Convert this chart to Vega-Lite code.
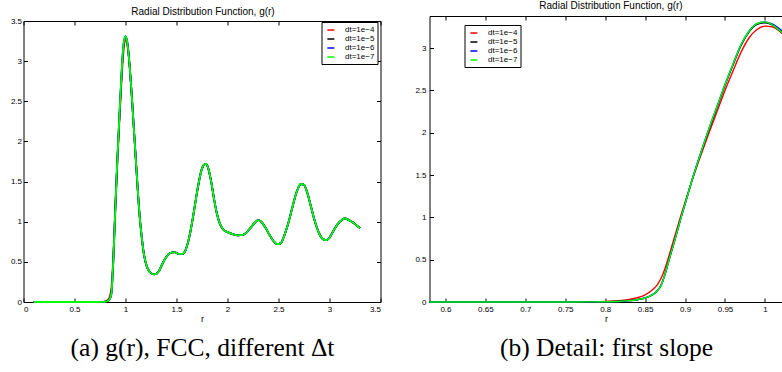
{
  "$schema": "https://vega.github.io/schema/vega-lite/v6.json",
  "padding": {"left": 9.5, "top": 0, "right": 0, "bottom": 0},
  "background": "white",
  "datasets": {
    "left": [
      {"r": 0.1, "a": 0, "b": 0, "c": 0, "d": 0},
      {"r": 0.3, "a": 0, "b": 0, "c": 0, "d": 0},
      {"r": 0.5, "a": 0, "b": 0, "c": 0, "d": 0},
      {"r": 0.7, "a": 0, "b": 0, "c": 0, "d": 0},
      {"r": 0.78, "a": 0.002, "b": 0.001, "c": 0.001, "d": 0.001},
      {"r": 0.8, "a": 0.006, "b": 0.003, "c": 0.003, "d": 0.003},
      {"r": 0.82, "a": 0.018, "b": 0.009, "c": 0.009, "d": 0.009},
      {"r": 0.84, "a": 0.05, "b": 0.027, "c": 0.027, "d": 0.027},
      {"r": 0.86, "a": 0.15, "b": 0.09, "c": 0.09, "d": 0.09},
      {"r": 0.88, "a": 0.55, "b": 0.5, "c": 0.5, "d": 0.5},
      {"r": 0.9, "a": 1.18, "b": 1.16, "c": 1.16, "d": 1.16},
      {"r": 0.92, "a": 1.74, "b": 1.77, "c": 1.77, "d": 1.77},
      {"r": 0.94, "a": 2.25, "b": 2.3, "c": 2.31, "d": 2.31},
      {"r": 0.96, "a": 2.73, "b": 2.8, "c": 2.81, "d": 2.81},
      {"r": 0.98, "a": 3.12, "b": 3.19, "c": 3.2, "d": 3.2},
      {"r": 1.0, "a": 3.26, "b": 3.3, "c": 3.31, "d": 3.31},
      {"r": 1.02, "a": 3.18, "b": 3.21, "c": 3.22, "d": 3.21},
      {"r": 1.04, "a": 2.95, "b": 2.95, "c": 2.95, "d": 2.95},
      {"r": 1.06, "a": 2.6, "b": 2.6, "c": 2.6, "d": 2.6},
      {"r": 1.08, "a": 2.2, "b": 2.2, "c": 2.2, "d": 2.2},
      {"r": 1.1, "a": 1.8, "b": 1.8, "c": 1.8, "d": 1.8},
      {"r": 1.12, "a": 1.4, "b": 1.4, "c": 1.4, "d": 1.4},
      {"r": 1.14, "a": 1.05, "b": 1.05, "c": 1.05, "d": 1.05},
      {"r": 1.16, "a": 0.8, "b": 0.8, "c": 0.8, "d": 0.8},
      {"r": 1.18, "a": 0.6, "b": 0.6, "c": 0.6, "d": 0.6},
      {"r": 1.2, "a": 0.48, "b": 0.48, "c": 0.48, "d": 0.48},
      {"r": 1.22, "a": 0.41, "b": 0.41, "c": 0.41, "d": 0.41},
      {"r": 1.25, "a": 0.36, "b": 0.36, "c": 0.36, "d": 0.36},
      {"r": 1.28, "a": 0.345, "b": 0.345, "c": 0.345, "d": 0.345},
      {"r": 1.3, "a": 0.35, "b": 0.35, "c": 0.35, "d": 0.35},
      {"r": 1.33, "a": 0.39, "b": 0.39, "c": 0.39, "d": 0.39},
      {"r": 1.36, "a": 0.47, "b": 0.47, "c": 0.47, "d": 0.47},
      {"r": 1.4, "a": 0.56, "b": 0.56, "c": 0.56, "d": 0.56},
      {"r": 1.44, "a": 0.61, "b": 0.61, "c": 0.61, "d": 0.61},
      {"r": 1.48, "a": 0.62, "b": 0.62, "c": 0.62, "d": 0.62},
      {"r": 1.52, "a": 0.6, "b": 0.6, "c": 0.6, "d": 0.6},
      {"r": 1.56, "a": 0.6, "b": 0.6, "c": 0.6, "d": 0.6},
      {"r": 1.59, "a": 0.65, "b": 0.65, "c": 0.65, "d": 0.65},
      {"r": 1.62, "a": 0.78, "b": 0.78, "c": 0.78, "d": 0.78},
      {"r": 1.65, "a": 0.97, "b": 0.97, "c": 0.97, "d": 0.97},
      {"r": 1.68, "a": 1.2, "b": 1.2, "c": 1.2, "d": 1.2},
      {"r": 1.71, "a": 1.43, "b": 1.43, "c": 1.43, "d": 1.43},
      {"r": 1.74, "a": 1.62, "b": 1.62, "c": 1.62, "d": 1.62},
      {"r": 1.77, "a": 1.71, "b": 1.71, "c": 1.71, "d": 1.71},
      {"r": 1.79, "a": 1.72, "b": 1.72, "c": 1.72, "d": 1.72},
      {"r": 1.81, "a": 1.67, "b": 1.67, "c": 1.67, "d": 1.67},
      {"r": 1.84, "a": 1.5, "b": 1.5, "c": 1.5, "d": 1.5},
      {"r": 1.87, "a": 1.27, "b": 1.27, "c": 1.27, "d": 1.27},
      {"r": 1.9, "a": 1.08, "b": 1.08, "c": 1.08, "d": 1.08},
      {"r": 1.93, "a": 0.96, "b": 0.96, "c": 0.96, "d": 0.96},
      {"r": 1.96, "a": 0.9, "b": 0.9, "c": 0.9, "d": 0.9},
      {"r": 2.0, "a": 0.87, "b": 0.87, "c": 0.87, "d": 0.87},
      {"r": 2.05, "a": 0.845, "b": 0.845, "c": 0.845, "d": 0.845},
      {"r": 2.1, "a": 0.83, "b": 0.83, "c": 0.83, "d": 0.83},
      {"r": 2.15, "a": 0.835, "b": 0.835, "c": 0.835, "d": 0.835},
      {"r": 2.19, "a": 0.87, "b": 0.87, "c": 0.87, "d": 0.87},
      {"r": 2.23, "a": 0.93, "b": 0.93, "c": 0.93, "d": 0.93},
      {"r": 2.27, "a": 0.99, "b": 0.99, "c": 0.99, "d": 0.99},
      {"r": 2.3, "a": 1.02, "b": 1.02, "c": 1.02, "d": 1.02},
      {"r": 2.33, "a": 1.0, "b": 1.0, "c": 1.0, "d": 1.0},
      {"r": 2.37, "a": 0.93, "b": 0.93, "c": 0.93, "d": 0.93},
      {"r": 2.41, "a": 0.84, "b": 0.84, "c": 0.84, "d": 0.84},
      {"r": 2.45, "a": 0.76, "b": 0.76, "c": 0.76, "d": 0.76},
      {"r": 2.49, "a": 0.72, "b": 0.72, "c": 0.72, "d": 0.72},
      {"r": 2.52, "a": 0.73, "b": 0.73, "c": 0.73, "d": 0.73},
      {"r": 2.56, "a": 0.84, "b": 0.84, "c": 0.84, "d": 0.84},
      {"r": 2.6, "a": 1.0, "b": 1.0, "c": 1.0, "d": 1.0},
      {"r": 2.64, "a": 1.2, "b": 1.2, "c": 1.2, "d": 1.2},
      {"r": 2.68, "a": 1.38, "b": 1.38, "c": 1.38, "d": 1.38},
      {"r": 2.72, "a": 1.47, "b": 1.47, "c": 1.47, "d": 1.47},
      {"r": 2.75, "a": 1.46, "b": 1.46, "c": 1.46, "d": 1.46},
      {"r": 2.78, "a": 1.37, "b": 1.37, "c": 1.37, "d": 1.37},
      {"r": 2.82, "a": 1.18, "b": 1.18, "c": 1.18, "d": 1.18},
      {"r": 2.86, "a": 0.99, "b": 0.99, "c": 0.99, "d": 0.99},
      {"r": 2.9, "a": 0.85, "b": 0.85, "c": 0.85, "d": 0.85},
      {"r": 2.94, "a": 0.78, "b": 0.78, "c": 0.78, "d": 0.78},
      {"r": 2.97, "a": 0.77, "b": 0.77, "c": 0.77, "d": 0.77},
      {"r": 3.0, "a": 0.8, "b": 0.8, "c": 0.8, "d": 0.8},
      {"r": 3.04, "a": 0.89, "b": 0.89, "c": 0.89, "d": 0.89},
      {"r": 3.08, "a": 0.97, "b": 0.97, "c": 0.97, "d": 0.97},
      {"r": 3.12, "a": 1.02, "b": 1.02, "c": 1.02, "d": 1.02},
      {"r": 3.15, "a": 1.04, "b": 1.04, "c": 1.04, "d": 1.04},
      {"r": 3.19, "a": 1.02, "b": 1.02, "c": 1.02, "d": 1.02},
      {"r": 3.23, "a": 0.99, "b": 0.99, "c": 0.99, "d": 0.99},
      {"r": 3.27, "a": 0.95, "b": 0.95, "c": 0.95, "d": 0.95},
      {"r": 3.3, "a": 0.92, "b": 0.92, "c": 0.92, "d": 0.92}
    ],
    "right": [
      {"r": 0.58, "a": 0, "b": 0, "c": 0, "d": 0},
      {"r": 0.7, "a": 0, "b": 0, "c": 0, "d": 0},
      {"r": 0.76, "a": 0, "b": 0, "c": 0, "d": 0},
      {"r": 0.78, "a": 0.002, "b": 0.001, "c": 0.001, "d": 0.001},
      {"r": 0.8, "a": 0.006, "b": 0.003, "c": 0.003, "d": 0.003},
      {"r": 0.82, "a": 0.018, "b": 0.009, "c": 0.009, "d": 0.009},
      {"r": 0.83, "a": 0.03, "b": 0.016, "c": 0.016, "d": 0.016},
      {"r": 0.84, "a": 0.05, "b": 0.027, "c": 0.027, "d": 0.027},
      {"r": 0.85, "a": 0.085, "b": 0.047, "c": 0.047, "d": 0.047},
      {"r": 0.86, "a": 0.15, "b": 0.09, "c": 0.09, "d": 0.09},
      {"r": 0.865, "a": 0.2, "b": 0.13, "c": 0.13, "d": 0.13},
      {"r": 0.87, "a": 0.28, "b": 0.2, "c": 0.2, "d": 0.2},
      {"r": 0.875, "a": 0.4, "b": 0.33, "c": 0.33, "d": 0.33},
      {"r": 0.88, "a": 0.55, "b": 0.5, "c": 0.5, "d": 0.5},
      {"r": 0.885, "a": 0.71, "b": 0.66, "c": 0.66, "d": 0.66},
      {"r": 0.89, "a": 0.87, "b": 0.83, "c": 0.83, "d": 0.83},
      {"r": 0.895, "a": 1.03, "b": 1.0, "c": 1.0, "d": 1.0},
      {"r": 0.9, "a": 1.18, "b": 1.16, "c": 1.16, "d": 1.16},
      {"r": 0.91, "a": 1.47, "b": 1.48, "c": 1.48, "d": 1.48},
      {"r": 0.92, "a": 1.74, "b": 1.77, "c": 1.77, "d": 1.77},
      {"r": 0.93, "a": 2.0, "b": 2.04, "c": 2.05, "d": 2.05},
      {"r": 0.94, "a": 2.25, "b": 2.3, "c": 2.31, "d": 2.31},
      {"r": 0.95, "a": 2.5, "b": 2.56, "c": 2.57, "d": 2.57},
      {"r": 0.96, "a": 2.73, "b": 2.8, "c": 2.81, "d": 2.81},
      {"r": 0.97, "a": 2.95, "b": 3.03, "c": 3.04, "d": 3.04},
      {"r": 0.98, "a": 3.12, "b": 3.19, "c": 3.2, "d": 3.2},
      {"r": 0.99, "a": 3.22, "b": 3.28, "c": 3.29, "d": 3.29},
      {"r": 1.0, "a": 3.26, "b": 3.3, "c": 3.31, "d": 3.31},
      {"r": 1.01, "a": 3.25, "b": 3.27, "c": 3.28, "d": 3.27},
      {"r": 1.022, "a": 3.17, "b": 3.18, "c": 3.2, "d": 3.18}
    ]
  },
  "hconcat": [
    {
      "width": 357,
      "height": 281,
      "title": {"text": "Radial Distribution Function, g(r)", "offset": 0, "dx": 1, "frame": "group"},
      "data": {"name": "left"},
      "transform": [{"fold": ["a", "b", "c", "d"], "as": ["s", "g"]}],
      "layer": [
        {
          "mark": {"type": "line", "strokeWidth": 1.8, "interpolate": "monotone"},
          "encoding": {
            "x": {"field": "r", "type": "quantitative", "scale": {"domain": [0, 3.5], "nice": false, "zero": false},
                  "axis": {"values": [0, 0.5, 1, 1.5, 2, 2.5, 3, 3.5], "format": "~g", "title": "r", "labelPadding": 7}},
            "y": {"field": "g", "type": "quantitative", "scale": {"domain": [0, 3.5], "nice": false},
                  "axis": {"values": [0, 0.5, 1, 1.5, 2, 2.5, 3, 3.5], "format": "~g", "title": null, "labelPadding": 6}},
            "color": {"field": "s", "type": "nominal",
                      "scale": {"domain": ["a", "b", "c", "d"], "range": ["#ff0000", "#000000", "#0000ff", "#00ff00"]},
                      "legend": {"orient": "none", "legendX": 298, "legendY": 1,
                                 "labelExpr": "datum.label == 'a' ? 'dt=1e−4' : datum.label == 'b' ? 'dt=1e−5' : datum.label == 'c' ? 'dt=1e−6' : 'dt=1e−7'"}}
          }
        },
        {
          "mark": {"type": "line", "opacity": 0},
          "encoding": {
            "x": {"field": "r", "type": "quantitative",
                  "axis": {"orient": "top", "values": [0, 0.5, 1, 1.5, 2, 2.5, 3, 3.5], "labels": false, "title": null}},
            "y": {"field": "g", "type": "quantitative",
                  "axis": {"orient": "right", "values": [0, 0.5, 1, 1.5, 2, 2.5, 3, 3.5], "labels": false, "title": null}}
          }
        },
        {
          "mark": {"type": "line", "opacity": 0},
          "encoding": {
            "x": {"field": "r", "type": "quantitative",
                  "axis": {"orient": "bottom", "labels": false, "ticks": false, "domain": false, "offset": 33,
                           "title": "(a) g(r), FCC, different Δt", "titleFont": "Liberation Serif", "titleFontSize": 25.5, "titlePadding": 0}}
          }
        }
      ],
      "resolve": {"axis": {"x": "independent", "y": "independent"}}
    },
    {
      "width": 353,
      "height": 281,
      "title": {"text": "Radial Distribution Function, g(r)", "offset": 5, "dx": 5, "frame": "group"},
      "data": {"name": "right"},
      "transform": [{"fold": ["a", "b", "c", "d"], "as": ["s", "g"]}],
      "layer": [
        {
          "mark": {"type": "line", "strokeWidth": 1.4, "interpolate": "monotone"},
          "encoding": {
            "x": {"field": "r", "type": "quantitative", "scale": {"domain": [0.58, 1.022], "nice": false, "zero": false},
                  "axis": {"values": [0.6, 0.65, 0.7, 0.75, 0.8, 0.85, 0.9, 0.95, 1], "format": "~g", "title": "r", "labelPadding": 7}},
            "y": {"field": "g", "type": "quantitative", "scale": {"domain": [0, 3.38], "range": [281, -5], "nice": false},
                  "axis": {"values": [0, 0.5, 1, 1.5, 2, 2.5, 3], "format": "~g", "title": null, "labelPadding": 7.5}},
            "color": {"field": "s", "type": "nominal",
                      "scale": {"domain": ["a", "b", "c", "d"], "range": ["#ff0000", "#000000", "#0000ff", "#00ff00"]},
                      "legend": {"orient": "none", "legendX": 35, "legendY": 4,
                                 "labelExpr": "datum.label == 'a' ? 'dt=1e−4' : datum.label == 'b' ? 'dt=1e−5' : datum.label == 'c' ? 'dt=1e−6' : 'dt=1e−7'"}}
          }
        },
        {
          "mark": {"type": "line", "opacity": 0},
          "encoding": {
            "x": {"field": "r", "type": "quantitative",
                  "axis": {"orient": "top", "values": [0.6, 0.65, 0.7, 0.75, 0.8, 0.85, 0.9, 0.95, 1], "labels": false, "title": null, "offset": 5}}
          }
        },
        {
          "mark": {"type": "line", "opacity": 0},
          "encoding": {
            "x": {"field": "r", "type": "quantitative",
                  "axis": {"orient": "bottom", "labels": false, "ticks": false, "domain": false, "offset": 33,
                           "title": "(b) Detail: first slope", "titleFont": "Liberation Serif", "titleFontSize": 25.5, "titlePadding": 0}}
          }
        }
      ],
      "resolve": {"axis": {"x": "independent", "y": "independent"}}
    }
  ],
  "spacing": 49,
  "bounds": "flush",
  "resolve": {"legend": {"color": "independent"}},
  "config": {
    "font": "Liberation Sans",
    "view": {"stroke": null},
    "axis": {
      "grid": false,
      "domainColor": "black",
      "domainWidth": 1,
      "tickColor": "black",
      "tickSize": -4,
      "tickWidth": 1,
      "labelFont": "Liberation Sans",
      "labelFontSize": 8,
      "labelColor": "black",
      "titleFont": "Liberation Sans",
      "titleFontSize": 9,
      "titleFontWeight": "normal",
      "titleColor": "black",
      "titlePadding": 1
    },
    "title": {"font": "Liberation Sans", "fontSize": 10, "fontWeight": "normal", "color": "black", "anchor": "middle"},
    "legend": {
      "title": null,
      "symbolType": "M-0.5,0H1.15",
      "symbolSize": 72,
      "symbolStrokeWidth": 1.5,
      "labelFont": "Liberation Sans",
      "labelFontSize": 8,
      "labelColor": "black",
      "labelOffset": 10.5,
      "strokeColor": "black",
      "fillColor": "white",
      "padding": 3,
      "rowPadding": 0
    }
  }
}
